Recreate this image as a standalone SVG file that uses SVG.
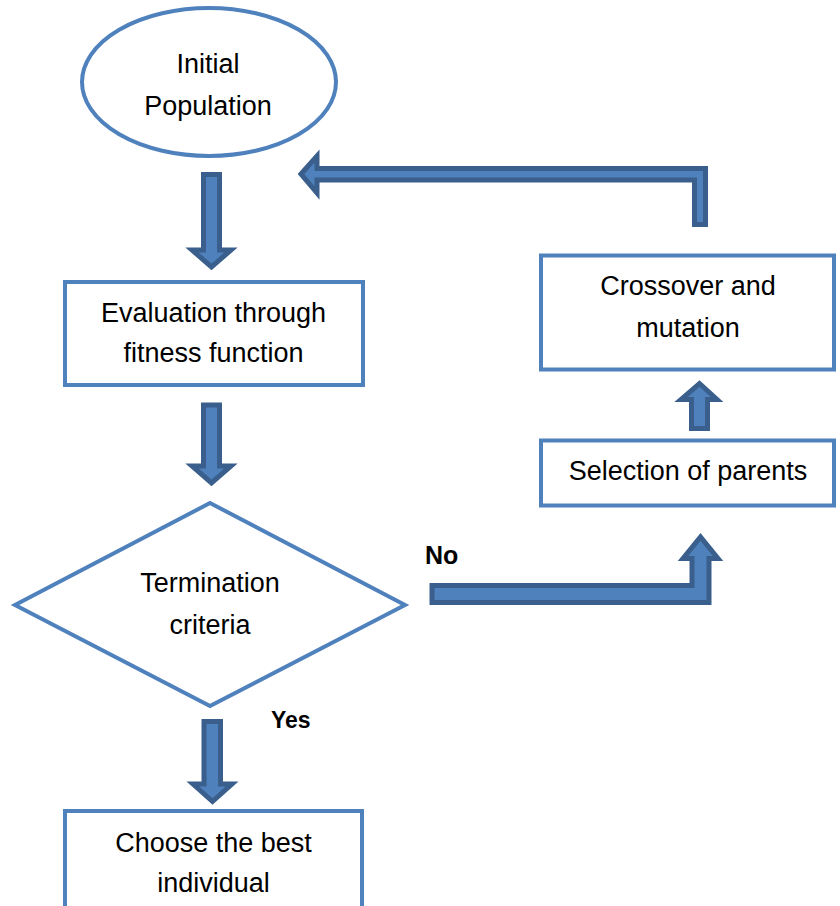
<svg xmlns="http://www.w3.org/2000/svg" width="840" height="906" viewBox="0 0 840 906">
  <style>
    .shape { fill: #ffffff; stroke: #4F81BD; stroke-width: 4; }
    .arrow { fill: #4F81BD; stroke: #3A5F8D; stroke-width: 5; stroke-linejoin: miter; }
    .label { font-family: "Liberation Sans", Arial, sans-serif; font-size: 27px; fill: #000000; text-anchor: middle; }
    .tag { font-family: "Liberation Sans", Arial, sans-serif; font-weight: bold; fill: #000000; }
  </style>
  <rect width="840" height="906" fill="#ffffff"/>

  <!-- connectors: block arrows -->
  <g id="connectors">
    <!-- Initial Population -> Evaluation -->
    <polygon class="arrow" points="203.5,174.5 219.5,174.5 219.5,250 231,250 211.5,267 192,250 203.5,250"/>
    <!-- Evaluation -> Termination -->
    <polygon class="arrow" points="203.5,405 219.5,405 219.5,466 231,466 211.5,483 192,466 203.5,466"/>
    <!-- Termination -> Choose the best (Yes) -->
    <polygon class="arrow" points="204,721.5 220.5,721.5 220.5,784 232,784 212.5,801.5 193,784 204,784"/>
    <!-- Termination -> Selection of parents (No) -->
    <polygon class="arrow" points="432,585.5 692,585.5 692,558.5 683,558.5 700.5,537 718,558.5 709,558.5 709,602.5 432,602.5"/>
    <!-- Selection of parents -> Crossover and mutation -->
    <polygon class="arrow" points="691.5,428.5 707.5,428.5 707.5,399.5 717,399.5 699.5,383.5 681,399.5 691.5,399.5"/>
    <!-- Crossover and mutation -> Evaluation loop back -->
    <polygon class="arrow" points="301,174 317,156 317,168.5 705.5,168.5 705.5,224.5 694.5,224.5 694.5,180 317,180 317,193"/>
  </g>

  <g id="initial-population">
    <ellipse class="shape" cx="209" cy="82" rx="127" ry="74"/>
    <text class="label" x="208" y="73">Initial</text>
    <text class="label" x="208" y="115">Population</text>
  </g>

  <g id="evaluation">
    <rect class="shape" x="65" y="282" width="298" height="103"/>
    <text class="label" x="213.5" y="322">Evaluation through</text>
    <text class="label" x="213.5" y="362">fitness function</text>
  </g>

  <g id="termination">
    <polygon class="shape" points="210,503 405,605 210,706 15,605"/>
    <text class="label" x="210" y="592">Termination</text>
    <text class="label" x="210" y="634">criteria</text>
  </g>

  <g id="choose-best">
    <rect class="shape" x="65" y="811" width="297" height="110"/>
    <text class="label" x="213.5" y="852">Choose the best</text>
    <text class="label" x="213.5" y="892">individual</text>
  </g>

  <g id="selection">
    <rect class="shape" x="541" y="440.5" width="293" height="65"/>
    <text class="label" x="688" y="480">Selection of parents</text>
  </g>

  <g id="crossover">
    <rect class="shape" x="541" y="255.5" width="293" height="114"/>
    <text class="label" x="688" y="295">Crossover and</text>
    <text class="label" x="688" y="337">mutation</text>
  </g>

  <text class="tag" x="425" y="564" font-size="25">No</text>
  <text class="tag" x="271" y="728" font-size="23">Yes</text>
</svg>
